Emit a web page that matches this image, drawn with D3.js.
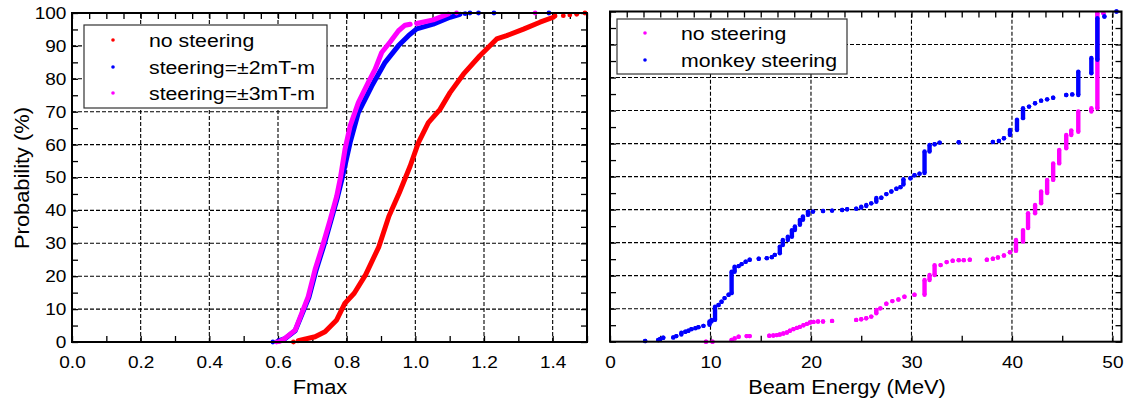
<!DOCTYPE html>
<html lang="en">
<head>
<meta charset="UTF-8">
<title>Fmax and beam energy distributions</title>
<script src="https://d3js.org/d3.v7.min.js"></script>
<style>
  body { margin: 0; background: #fff; }
  svg { display: block; font-family: "Liberation Sans", Arial, sans-serif; }
</style>
</head>
<body>
<div id="chart"></div>
<script>
// ---- left panel: cumulative probability (%) vs Fmax ----
// dense part of each curve as [Fmax, prob] vertices, isolated points listed apart
const noSteerLine = [[0.659,0.4],[0.708,1.6],[0.737,3.1],[0.771,6.7],[0.795,11.8],[0.822,14.8],[0.855,20.4],
  [0.894,29],[0.923,38.2],[0.953,45.3],[0.985,53.5],[1.009,60.6],[1.038,66.7],[1.072,70.7],[1.101,75.8],
  [1.14,81.4],[1.188,87],[1.237,92.1],[1.266,93.1],[1.315,95.1],[1.363,97.2],[1.402,98.7]];
const noSteerDots = [[0.645,0],[1.407,99.1],[1.431,99.2],[1.45,99.4],[1.47,99.6],[1.494,100]];

const steer2Line = [[0.6,0.3],[0.62,1.0],[0.65,3.4],[0.67,8.5],[0.69,13.6],[0.71,21.5],[0.734,29.5],
  [0.754,36.8],[0.772,43.5],[0.786,49.4],[0.81,60.6],[0.834,69.7],[0.873,77.8],[0.912,85],[0.951,90.1],
  [0.98,93.1],[1.004,95.2],[1.052,96.6],[1.101,98.7],[1.13,99.6]];
const steer2Dots = [[0.585,0],[1.145,99.8],[1.159,100],[1.184,100],[1.229,100],[1.389,100]];

const steer3Line = [[0.605,0.2],[0.62,1.1],[0.65,3.6],[0.669,8.7],[0.688,13.8],[0.708,22],[0.732,30],
  [0.752,37.2],[0.771,44.3],[0.782,50],[0.795,58.5],[0.81,65.6],[0.834,72.8],[0.863,78.9],[0.883,82.9],
  [0.902,88],[0.926,91.1],[0.951,94.6],[0.97,96.3],[0.985,96.6]];
const steer3Gap = [[1.004,96.8],[1.052,97.9],[1.096,99.7]];
const steer3Dots = [[0.596,0],[1.12,100],[1.349,100]];

const fmaxTicks = [0, 0.2, 0.4, 0.6, 0.8, 1.0, 1.2, 1.4];
const probTicks = [0, 10, 20, 30, 40, 50, 60, 70, 80, 90, 100];
const leftLegend = ["no steering", "steering=\u00b12mT-m", "steering=\u00b13mT-m"];

// ---- right panel: cumulative probability (%) vs beam energy ----
// runs of points: [energy MeV, prob low, prob high]
const noSteerRuns = [[9.55,0,0],[10.2,0,0],[12.1,0.5,0.5],[12.4,1.0,1.0],[12.8,1.5,1.5],[13.6,1.7,1.7],
  [13.9,1.7,1.7],[15.85,1.8,1.8],[16.25,1.9,1.9],[16.6,2.0,2.0],[16.9,2.2,2.2],[17.25,2.5,2.5],
  [17.6,2.8,2.8],[17.9,3.3,3.3],[18.25,3.8,3.8],[18.6,4.2,4.2],[18.9,4.5,4.5],[19.25,5.0,5.0],
  [19.6,5.4,5.4],[19.9,5.8,5.8],[20.25,6.0,6.0],[20.7,6.1,6.1],[21.2,6.1,6.1],[22.1,6.3,6.3],
  [24.5,6.6,6.6],[25.0,6.8,6.8],[25.5,7.1,7.1],[26.0,7.6,7.6],[26.5,8.6,9.6],[26.9,10.1,10.1],
  [27.5,11.5,11.5],[28.1,12.3,12.3],[28.7,12.8,12.8],[29.3,13.6,13.6],[30.3,14.2,14.2],[31.3,14.2,18.7],
  [31.8,18.7,20.2],[32.3,20.2,23.2],[32.9,23.2,23.2],[33.5,24.1,24.1],[34.1,24.5,24.5],[34.7,24.7,24.7],
  [35.2,24.7,24.7],[35.8,24.8,24.8],[37.5,24.8,24.8],[38.1,25.1,25.1],[38.6,25.5,25.5],[39.2,26.1,26.1],
  [39.8,27.1,27.1],[40.4,27.5,30.8],[41.1,30.3,33.8],[41.6,34.4,38.9],[42.3,38.9,41.4],[42.9,41.9,45.5],
  [43.5,45,49],[44.1,49,54],[44.7,54,58.1],[45.4,58.6,62.6],[45.9,62.6,64],[46.6,63.6,69.7],
  [47.9,69.7,70.7],[48.5,70.7,99.5],[49.1,99.5,99.5]];

const monkeyRuns = [[3.5,0.2,0.2],[4.8,0.5,0.5],[5.0,0.8,0.8],[5.3,1.2,1.2],[6.3,1.3,1.3],[6.6,1.7,1.7],
  [7.1,2.2,2.7],[7.5,3.0,3.0],[7.8,3.3,3.3],[8.1,3.8,3.8],[8.5,4.1,4.1],[8.8,4.4,4.4],[9.3,4.8,4.8],
  [9.9,5.1,6.1],[10.1,6.1,6.6],[10.45,6.6,10.6],[10.8,11.1,11.1],[11.1,12.1,12.1],[11.4,13.2,13.2],
  [11.8,14.2,14.2],[12.1,14.7,21.2],[12.4,21.2,22.7],[12.8,22.9,22.9],[13.1,23.5,23.5],[13.5,24.2,24.2],
  [13.9,24.8,24.8],[14.8,25.1,25.1],[15.6,25.3,25.3],[16.1,25.6,25.6],[16.4,26.3,26.3],[16.9,26.8,28.8],
  [17.2,29.3,30.8],[17.7,30.8,31.8],[18.1,31.8,33.8],[18.4,33.8,34.9],[18.9,35.4,36.9],[19.2,36.9,37.9],
  [19.7,38.4,39.4],[20.2,39.4,39.4],[21.2,39.6,39.6],[22.1,39.7,39.7],[23.1,39.9,39.9],[23.6,40.1,40.1],
  [24.5,40.3,40.3],[25.0,40.6,40.9],[25.5,41.1,41.4],[26.0,41.9,41.9],[26.5,42.4,43.5],[27.0,43.6,43.6],
  [27.5,44.7,44.7],[28.0,45.5,45.5],[28.5,46.3,46.3],[28.9,46.8,46.8],[29.2,47.6,49.2],[29.9,49.5,49.5],
  [30.3,50.4,50.4],[30.8,50.9,50.9],[31.3,51.1,57.6],[31.8,57.6,59.6],[32.3,59.8,59.8],[32.8,60.3,60.3],
  [34.7,60.4,60.4],[38.1,60.5,60.5],[38.7,60.8,60.8],[39.2,61.6,61.6],[39.8,62.6,64.1],[40.5,64.1,67.2],
  [41.1,67.7,70.7],[41.7,71.2,71.2],[42.3,72.2,72.2],[42.9,73.0,73.0],[43.5,73.4,73.4],[44.1,73.9,73.9],
  [45.4,74.7,74.7],[46.0,74.9,74.9],[46.6,74.7,81.8],[47.9,81.3,85.9],[48.5,85.4,98.0],[49.2,98.5,98.5],
  [50.4,100,100]];

const energyTicks = [0, 10, 20, 30, 40, 50];
const rightLegend = ["no steering", "monkey steering"];

const RED = "#ff0000", BLUE = "#0000ff", MAGENTA = "#ff00ff";
const STRETCH = 1.12;   // the original text is drawn a bit wide

const svg = d3.select("#chart").append("svg")
    .attr("width", 1125)
    .attr("height", 404);

// stretched text helper
function label(g, x, y, str, size, anchor, rot) {
    return g.append("text")
        .attr("transform", `translate(${x},${y})` + (rot ? ` rotate(${rot})` : "") + ` scale(${STRETCH},1)`)
        .attr("text-anchor", anchor || "start")
        .style("font-size", size + "px")
        .attr("fill", "#000")
        .text(str);
}

// grid, ticks and frame for one panel
function frame(x, y, opt) {
    const g = svg.append("g");
    const [xl, xr] = x.range(), [yb, yt] = y.range();

    // dashed grid
    g.selectAll(".gx").data(opt.xGrid).join("line")
        .attr("x1", d => x(d)).attr("x2", d => x(d))
        .attr("y1", yb).attr("y2", yt)
        .attr("stroke", "#000").attr("stroke-width", 1.1).attr("stroke-dasharray", "4,2");
    g.selectAll(".gy").data(probTicks.slice(1, -1)).join("line")
        .attr("x1", xl).attr("x2", xr)
        .attr("y1", d => y(d)).attr("y2", d => y(d))
        .attr("stroke", "#000").attr("stroke-width", 1.1).attr("stroke-dasharray", "4,2");

    const minorY = d3.range(0, 21).map(i => i * 5);
    const axes = [
        [d3.axisBottom(x).tickValues(opt.bottomMinor), `translate(0,${yb})`],
        [d3.axisTop(x).tickValues(opt.topMinor), `translate(0,${yt})`],
        [d3.axisLeft(y).tickValues(minorY), `translate(${xl},0)`],
        [d3.axisRight(y).tickValues(minorY), `translate(${xr},0)`]
    ];
    axes.forEach(([ax, tr]) => {
        const a = g.append("g").attr("transform", tr)
            .call(ax.tickSizeInner(-6).tickSizeOuter(0).tickFormat(""));
        a.select(".domain").remove();
        a.selectAll("line").attr("stroke", "#000").attr("stroke-width", 1.3);
    });

    // tick labels
    const xl_ = g.append("g").attr("transform", `translate(0,${yb})`)
        .call(d3.axisBottom(x).tickValues(opt.xLabels).tickSize(0).tickPadding(14).tickFormat(opt.xFormat));
    xl_.select(".domain").remove();
    xl_.selectAll("text").style("font-size", "17px").attr("font-family", null)
        .attr("transform", `scale(${STRETCH},1)`).attr("fill", "#000");

    if (opt.yLabels) {
        const yl = g.append("g").attr("transform", `translate(${xl},0)`)
            .call(d3.axisLeft(y).tickValues(probTicks).tickSize(0).tickPadding(5));
        yl.select(".domain").remove();
        yl.selectAll("text").style("font-size", "17px").attr("font-family", null)
            .attr("transform", `scale(${STRETCH},1)`).attr("fill", "#000");
    }
    return g;
}

function border(x, y) {
    const [xl, xr] = x.range(), [yb, yt] = y.range();
    svg.append("rect")
        .attr("x", xl).attr("y", yt)
        .attr("width", xr - xl).attr("height", yb - yt)
        .attr("fill", "none").attr("stroke", "#000").attr("stroke-width", 2);
}

function legend(x0, y0, w, h, entries) {
    const g = svg.append("g");
    g.append("rect").attr("x", x0).attr("y", y0).attr("width", w).attr("height", h)
        .attr("fill", "#fff").attr("stroke", "#333").attr("stroke-width", 1.2);
    entries.forEach((e, i) => {
        g.append("circle").attr("cx", e.dx).attr("cy", e.cy).attr("r", 1.8).attr("fill", e.color);
        label(g, e.tx, e.cy + 6.5, e.text, 19, "start");
    });
}

// ================= left panel =================
const xF = d3.scaleLinear().domain([0, 1.5]).range([72, 587]);
const yL = d3.scaleLinear().domain([0, 100]).range([342, 13]);

frame(xF, yL, {
    xGrid: fmaxTicks.slice(1),
    bottomMinor: d3.range(0, 16).map(i => i / 10),
    topMinor: d3.range(0, 31).map(i => i / 20),
    xLabels: fmaxTicks,
    xFormat: d3.format(".1f"),
    yLabels: true
});

const lineF = d3.line().x(d => xF(d[0])).y(d => yL(d[1]));
function curve(pts, color) {
    svg.append("path").datum(pts).attr("d", lineF)
        .attr("fill", "none").attr("stroke", color).attr("stroke-width", 5)
        .attr("stroke-linejoin", "round").attr("stroke-linecap", "round");
}
function dots(pts, color, r) {
    svg.append("g").selectAll("circle").data(pts).join("circle")
        .attr("cx", d => xF(d[0])).attr("cy", d => yL(d[1])).attr("r", r).attr("fill", color);
}
curve(noSteerLine, RED); dots(noSteerDots, RED, 2.4);
curve(steer2Line, BLUE); dots(steer2Dots, BLUE, 2.4);
curve(steer3Line, MAGENTA); curve(steer3Gap, MAGENTA); dots(steer3Dots, MAGENTA, 2.4);

border(xF, yL);
legend(84, 25, 243, 83, [
    { dx: 113, cy: 40, tx: 149, text: leftLegend[0], color: RED },
    { dx: 113, cy: 67, tx: 149, text: leftLegend[1], color: BLUE },
    { dx: 113, cy: 93, tx: 149, text: leftLegend[2], color: MAGENTA }
]);

label(svg, 29, 178, "Probability (%)", 19.5, "middle", -90);
label(svg, 320, 394, "Fmax", 19.5, "middle");

// ================= right panel =================
const xE = d3.scaleLinear().domain([0, 50.9]).range([610, 1121.5]);
const yR = d3.scaleLinear().domain([0, 100]).range([341.7, 11.5]);

frame(xE, yR, {
    xGrid: energyTicks.slice(1),
    bottomMinor: d3.range(0, 11).map(i => i * 5),
    topMinor: d3.range(0, 31).map(i => i * 10 / 6),
    xLabels: energyTicks,
    xFormat: d3.format("d"),
    yLabels: false
});

function runs(data, color) {
    const g = svg.append("g").attr("fill", color).attr("stroke", color);
    g.selectAll("line").data(data).join("line")
        .attr("x1", d => xE(d[0])).attr("x2", d => xE(d[0]))
        .attr("y1", d => yR(d[1])).attr("y2", d => yR(d[2]))
        .attr("stroke-width", 4.4);
    g.selectAll("circle.lo").data(data).join("circle")
        .attr("cx", d => xE(d[0])).attr("cy", d => yR(d[1])).attr("r", 2.2).attr("stroke", "none");
    g.selectAll("circle.hi").data(data).join("circle").attr("class", "hi")
        .attr("cx", d => xE(d[0])).attr("cy", d => yR(d[2])).attr("r", 2.2).attr("stroke", "none");
}
runs(noSteerRuns, MAGENTA);
runs(monkeyRuns, BLUE);

border(xE, yR);
legend(617, 19, 230, 55, [
    { dx: 645, cy: 33, tx: 681, text: rightLegend[0], color: MAGENTA },
    { dx: 645, cy: 60, tx: 681, text: rightLegend[1], color: BLUE }
]);

label(svg, 847, 394, "Beam Energy (MeV)", 19.5, "middle");
</script>
</body>
</html>
